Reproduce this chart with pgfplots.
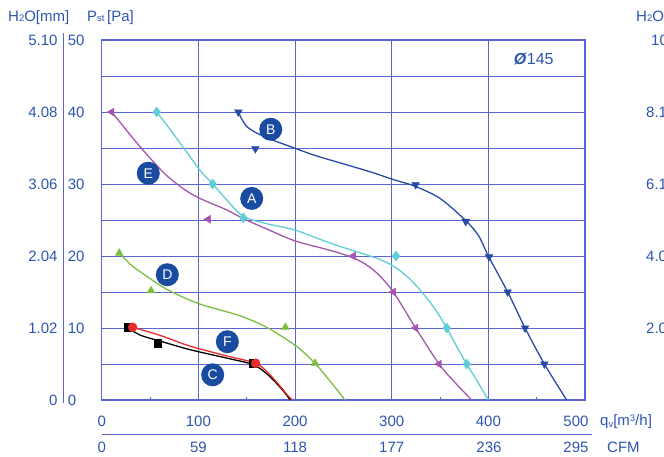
\documentclass[border=0pt]{standalone}
\usepackage{pgfplots}
\pgfplotsset{compat=1.18}
\usepackage{fontspec}
\setmainfont{Liberation Sans}
\definecolor{gridblue}{RGB}{90,100,210}
\definecolor{txtblue}{RGB}{45,85,175}
\definecolor{cB}{RGB}{40,75,165}
\definecolor{cA}{RGB}{95,205,215}
\definecolor{cE}{RGB}{165,85,175}
\definecolor{cD}{RGB}{125,190,65}
\definecolor{cF}{RGB}{230,45,40}
\definecolor{lab}{RGB}{25,75,160}
\newcommand{\tfont}{\fontsize{15}{15}\selectfont}
\newcommand{\sfont}{\fontsize{9.5}{9.5}\selectfont}
\begin{document}
\begin{tikzpicture}[x=1pt,y=1pt]
\useasboundingbox (0,0) rectangle (664,456);
\begin{axis}[
  at={(101.7pt,56pt)}, anchor=south west,
  scale only axis, width=483.3pt, height=360pt,
  xmin=0, xmax=500, ymin=0, ymax=50,
  axis line style={gridblue, line width=1.2pt},
  xtick={0,100,...,500},
  xticklabels={0,100,200,300,400,{}},
  ytick={0,5,...,50},
  yticklabels={0,,10,,20,,30,,40,,50},
  minor xtick={50,150,...,450},
  xmajorgrids, ymajorgrids,
  grid style={gridblue, line width=0.9pt},
  major tick length=0pt, minor tick length=3.5pt,
  tick align=inside, xtick pos=bottom, ytick pos=left,
  minor tick style={gridblue, line width=0.9pt},
  /pgf/number format/assume math mode=true,
  xticklabel style={anchor=center, yshift=-21.7pt, font=\tfont, text=txtblue, inner sep=0pt},
  yticklabel style={anchor=west, xshift=-34pt, font=\tfont, text=txtblue, inner sep=0pt},
  clip=false,
]
% curve B
\addplot[cB, line width=1.3pt, smooth, tension=0.5] coordinates {
 (141.4,40) (145,39) (150,38) (160,37.1) (175,36.2) (191,35.4) (220,34) (250,32.8)
 (280,31.6) (302,30.6) (324,29.7) (350,28) (376,25) (390,22.8) (400,20) (420,15)
 (438,10) (458,5) (481,0)};
\addplot[only marks, mark=triangle*, mark size=4.5pt, mark options={rotate=180, fill=cB, draw=cB}] coordinates {
 (141.4,40) (159,34.9) (324.8,29.9) (376.6,24.8) (400.7,19.9) (420,15) (438,10) (458,5)};
% curve A
\addplot[cA, line width=1.3pt, smooth, tension=0.5] coordinates {
 (56.9,40) (65,38.6) (74,37) (82,35.5) (91.3,33.8) (101.7,31.9) (114.8,30) (129.3,27.8)
 (146.5,25.5) (170.4,24.5) (200,23.6) (236.2,21.8) (270.7,20.3) (288,19.5) (303,18.5)
 (318,16.9) (333,14.7) (345,12.6) (357,10) (367,7.5) (377.6,5) (389,2.5) (400,0)};
\addplot[only marks, mark=diamond*, mark size=5pt, mark options={fill=cA, draw=cA}] coordinates {
 (56.9,40) (114.8,30) (146.5,25.3) (304.5,20) (357,10) (377.6,5)};
% curve E
\addplot[cE, line width=1.3pt, smooth, tension=0.5] coordinates {
 (10.3,40) (20,38.4) (32.7,36.3) (50,33.6) (67,31.2) (85,29.3) (100,28.1) (129.3,26.4)
 (146.5,25.2) (170,23.8) (200,22.1) (236,20.8) (255,20) (270,19.1) (285,17.6) (301.7,15)
 (324.8,10) (349,5) (365,2.5) (382.8,0)};
\addplot[only marks, mark=triangle*, mark size=4.5pt, mark options={rotate=90, fill=cE, draw=cE}] coordinates {
 (10.3,40) (110.3,25.1) (260.3,20) (301.7,15) (324.8,10) (349,5)};
% curve D
\addplot[cD, line width=1.3pt, smooth, tension=0.5] coordinates {
 (18.2,20.4) (30,18.8) (40,17.8) (67,15.4) (100,13.4) (143,11.7) (172,10) (202,7.4)
 (220.7,5.1) (237,2.5) (251.7,0)};
\addplot[only marks, mark=triangle*, mark size=4.5pt, mark options={fill=cD, draw=cD}] coordinates {
 (18.2,20.4) (51,15.2) (190,10.1) (220.7,5.1)};
% curve C
\addplot[black, line width=1.3pt, smooth, tension=0.5] coordinates {
 (27.5,10) (40,9) (60,8.2) (91,7) (130,5.8) (157,4.9) (172,3.5) (183,2) (190,0.9) (195,0)};
\addplot[only marks, mark=square*, mark size=3.8pt, mark options={fill=black, draw=black}] coordinates {
 (27.5,10.1) (57.9,7.9) (156.9,5.1)};
% curve F
\addplot[cF, line width=1.3pt, smooth, tension=0.5] coordinates {
 (32,10.1) (60,9) (91,7.5) (130,6.1) (159.3,5.1) (172,3.8) (184,2) (192,0.7) (197,0)};
\addplot[only marks, mark=*, mark size=4.5pt, mark options={fill=cF, draw=cF}] coordinates {
 (32,10.1) (159.3,5.1)};
% curve labels
\tikzset{lbl/.style={circle, fill=lab, text=white, minimum size=23pt, inner sep=0pt, font=\fontsize{14}{14}\selectfont}}
\node[lbl] at (axis cs:174.9,37.6) {B};
\node[lbl] at (axis cs:48.2,31.5) {E};
\node[lbl] at (axis cs:155.2,28.0) {A};
\node[lbl] at (axis cs:67.9,17.4) {D};
\node[lbl] at (axis cs:130,8.1) {F};
\node[lbl] at (axis cs:114.8,3.5) {C};
\node[text=txtblue, font=\fontsize{16}{16}\selectfont] at (axis cs:447,47.4) {\textbf{\textit{Ø}}145};
\end{axis}
% left scales
\draw[gridblue, line width=1.2pt] (63.3,423) -- (63.3,53);
\foreach \v/\y in {5.10/416, 4.08/344, 3.06/272, 2.04/200, 1.02/128, 0/56}
  \node[anchor=east, inner sep=0pt, text=txtblue, font=\tfont] at (57.7,\y) {\v};
\node[anchor=west, inner sep=0pt, text=txtblue, font=\tfont] at (8,438) {H{\sfont 2}O[mm]};
\node[anchor=west, inner sep=0pt, text=txtblue, font=\tfont] at (87,438) {P{\sfont st}\,[Pa]};
% bottom scales
\node[inner sep=0pt, text=txtblue, font=\tfont] at (576,34.3) {500};
\draw[gridblue, line width=1.2pt] (101.7,21.7) -- (591.7,21.7);
\foreach \v/\x in {0/101.7, 59/198.4, 118/295, 177/391.7, 236/489, 295/576}
  \node[inner sep=0pt, text=txtblue, font=\tfont] at (\x,9) {\v};
\node[anchor=west, inner sep=0pt, text=txtblue, font=\tfont] at (600,34.3) {q\raisebox{-2pt}{\sfont v}[m\raisebox{4pt}{\sfont 3}/h]};
\node[anchor=west, inner sep=0pt, text=txtblue, font=\tfont] at (607,9) {CFM};
% cut-off neighbouring chart
\begin{scope}
\clip (0,0) rectangle (664,456);
\node[anchor=west, inner sep=0pt, text=txtblue, font=\tfont] at (636,438) {H{\sfont 2}O[mm]};
\foreach \v/\y/\x in {10.20/416/651, 8.16/344/646, 6.12/272/646, 4.08/200/646, 2.04/128/646}
  \node[anchor=west, inner sep=0pt, text=txtblue, font=\tfont] at (\x,\y) {\v};
\end{scope}
\end{tikzpicture}
\end{document}
